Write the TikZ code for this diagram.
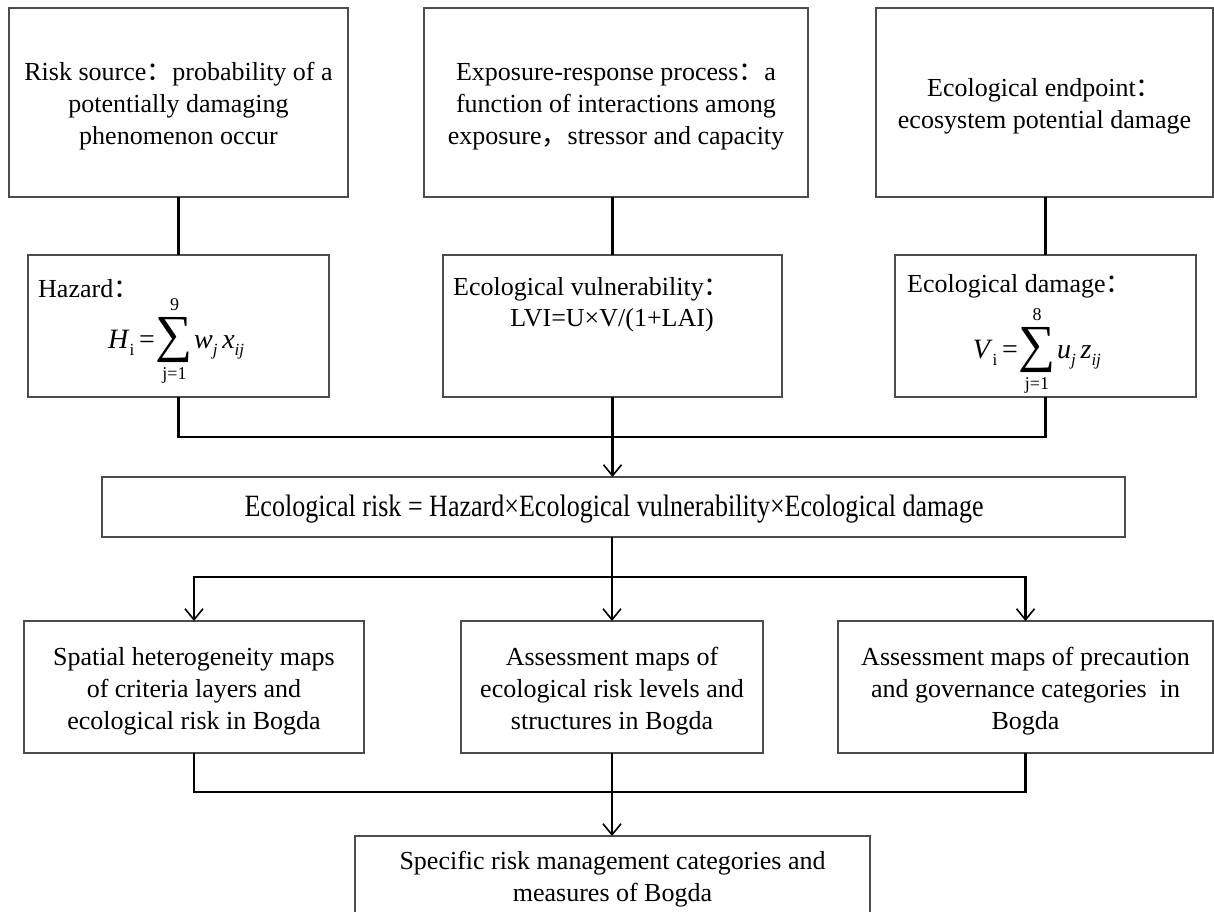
\documentclass[tikz,border=0pt]{standalone}
\usepackage{fontspec}
\setmainfont{Liberation Serif}
\newfontfamily\cjk{Noto Sans CJK SC}
\newfontfamily\condfont[FakeStretch=0.84]{Liberation Serif}
\usetikzlibrary{arrows.meta}
\newcommand{\fc}{{\cjk ：}}
\newcommand{\fcm}{{\cjk ，}}
\newcommand{\sbs}[1]{\raisebox{-0.25em}{\fontsize{17}{17}\selectfont #1}}
\begin{document}
\begin{tikzpicture}[x=1pt,y=-1pt,
  box/.style={draw=black!70, line width=1.2pt, inner sep=0pt, outer sep=0pt},
  txt/.style={font=\fontsize{26}{32}\selectfont, align=center, inner sep=0pt},
  mth/.style={font=\fontsize{28}{32}\selectfont, inner sep=0pt},
  sig/.style={font=\fontsize{52}{52}\selectfont, inner sep=0pt},
  lim/.style={font=\fontsize{18}{18}\selectfont, inner sep=0pt},
  conn/.style={line width=2.2pt, black},
  arr/.style={conn, -{Straight Barb[length=11pt,width=18pt,line width=1.6pt]}},
]
\useasboundingbox (0,0) rectangle (1214,911);

% top row boxes
\node[box, minimum width=339pt, minimum height=189pt] (t1) at (178.5,102.5) {};
\node[box, minimum width=384pt, minimum height=189pt] (t2) at (616,102.5) {};
\node[box, minimum width=337pt, minimum height=189pt] (t3) at (1044.5,102.5) {};
\node[txt] (t1t) at ([yshift=-4pt]t1.center)
  {Risk source\fc probability of a\\potentially damaging\\phenomenon occur};
\node[txt] (t2t) at ([yshift=-4pt]t2.center)
  {Exposure-response process\fc a\\function of interactions among\\exposure\fcm stressor and capacity};
\node[txt] (t3t) at ([yshift=-4pt]t3.center)
  {Ecological endpoint\fc\\ecosystem potential damage};

% formula row
\node[box, minimum width=301pt, minimum height=142pt] (f1) at (178.5,326) {};
\node[box, minimum width=339pt, minimum height=142pt] (f2) at (612.5,326) {};
\node[box, minimum width=301pt, minimum height=142pt] (f3) at (1045.5,326) {};

% hazard
\node[txt, anchor=west] (f1a) at (38,289) {Hazard\fc};
\node[sig] (s1) at (174.5,340) {∑};
\node[lim] (s1t) at (174.5,305) {9};
\node[lim] (s1b) at (174.5,375) {j=1};
\node[mth, anchor=base east] (f1l) at (155,348) {\textit{H}\sbs{i}\,=};
\node[mth, anchor=base west] (f1r) at (194,348) {\textit{w}\sbs{\textit{j}}\,\textit{x}\sbs{\textit{ij}}};

% vulnerability
\node[txt, anchor=west] (f2a) at (453,289) {Ecological vulnerability\fc};
\node[txt] (f2b) at (612,320) {LVI=U×V/(1+LAI)};

% damage
\node[txt, anchor=west] (f3a) at (907,286) {Ecological damage\fc};
\node[sig] (s3) at (1037,350) {∑};
\node[lim] (s3t) at (1037,315) {8};
\node[lim] (s3b) at (1037,385) {j=1};
\node[mth, anchor=base east] (f3l) at (1018,358) {\textit{V}\sbs{i}\,=};
\node[mth, anchor=base west] (f3r) at (1057,358) {\textit{u}\sbs{\textit{j}}\,\textit{z}\sbs{\textit{ij}}};

% ecological risk
\node[box, minimum width=1023pt, minimum height=60pt] (er) at (613.5,507) {};
\node[inner sep=0pt, font=\condfont\fontsize{31}{34}\selectfont] (ert) at (614,509)
  {Ecological risk = Hazard×Ecological vulnerability×Ecological damage};

% middle row
\node[box, minimum width=340pt, minimum height=132pt] (m1) at (194,687) {};
\node[box, minimum width=302pt, minimum height=132pt] (m2) at (612,687) {};
\node[box, minimum width=375pt, minimum height=132pt] (m3) at (1025.5,687) {};
\node[txt] (m1t) at ([yshift=-4pt]m1.center)
  {Spatial heterogeneity maps\\of criteria layers and\\ecological risk in Bogda};
\node[txt] (m2t) at ([yshift=-4pt]m2.center)
  {Assessment maps of\\ecological risk levels and\\structures in Bogda};
\node[txt] (m3t) at ([yshift=-4pt]m3.center)
  {Assessment maps of precaution\\and governance categories\ \ in\\Bogda};

% bottom
\node[box, minimum width=515pt, minimum height=80pt] (b) at (612.5,876) {};
\node[txt] (bt) at (612.5,879)
  {Specific risk management categories and\\measures of Bogda};

% connectors top -> formula
\draw[conn] (f1.north) -- (f1.north |- t1.south);
\draw[conn] (f2.north) -- (f2.north |- t2.south);
\draw[conn] (f3.north) -- (f3.north |- t3.south);

% formula -> ER
\coordinate (j1) at (612.5,437);
\draw[conn] (f1.south) |- (j1);
\draw[conn] (f3.south) |- (j1);
\draw[arr] (f2.south) -- (f2.south |- er.north);

% ER -> middle
\coordinate (j2) at (612,577);
\draw[conn] (m2.north |- er.south) -- (j2);
\draw[arr] (j2) -- (m2.north);
\draw[arr] (j2) -| (m1.north);
\draw[arr] (j2) -| (m3.north);

% middle -> bottom
\coordinate (j3) at (612,792);
\draw[conn] (m1.south) |- (j3);
\draw[conn] (m3.south) |- (j3);
\draw[arr] (m2.south) -- (m2.south |- b.north);
\end{tikzpicture}
\end{document}
